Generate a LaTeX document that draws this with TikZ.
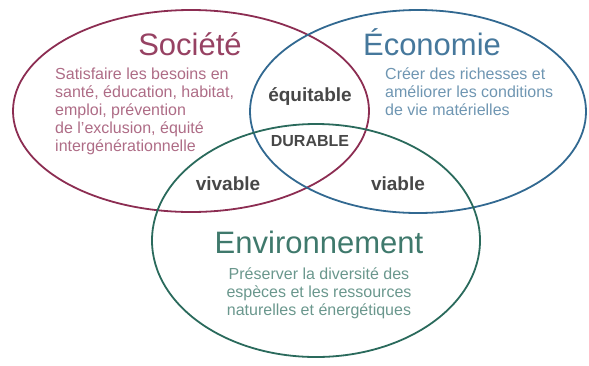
\documentclass[tikz,border=0pt]{standalone}
\usepackage{fontspec}
\setmainfont{Liberation Sans}
\definecolor{rouge}{RGB}{140,45,82}
\definecolor{bleu}{RGB}{50,105,145}
\definecolor{vert}{RGB}{42,106,92}
\tikzset{
	ring/.style={line width=1.8bp},
	titre/.style={font=\fontsize{31bp}{31bp}\selectfont, anchor=base, inner sep=0},
	texte/.style={font=\fontsize{16bp}{17.8bp}\selectfont, inner sep=0},
	lien/.style={font=\bfseries\fontsize{19bp}{19bp}\selectfont, text=black!72, anchor=base, inner sep=0}
}

\begin{document}
\begin{tikzpicture}[x=1bp, y=-1bp]
		%%%%% START %%%%%
		\useasboundingbox (0, 0) rectangle (589, 365);
		
		\draw[ring, color=rouge] (191, 111) ellipse [x radius=178bp, y radius=101bp];
		\draw[ring, color=bleu] (418, 111.5) ellipse [x radius=168bp, y radius=101.5bp];
		\draw[ring, color=vert] (316, 240.5) ellipse [x radius=164bp, y radius=116.5bp];
		
		\node[titre, text=rouge!90] (soc) at (190, 55) {Société};
		\node[texte, text=rouge!70, anchor=north west, align=left] (socTexte) at (55, 68)
			{Satisfaire les besoins en\\santé, éducation, habitat,\\emploi, prévention\\de l'exclusion, équité\\intergénérationnelle};
		
		\node[titre, text=bleu!90] (eco) at (432, 55) {Économie};
		\node[texte, text=bleu!70, anchor=north west, align=left] (ecoTexte) at (385, 68)
			{Créer des richesses et\\améliorer les conditions\\de vie matérielles};
		
		\node[titre, text=vert!90] (env) at (319, 253) {Environnement};
		\node[texte, text=vert!70, anchor=north, align=center] (envTexte) at (319, 268)
			{Préserver la diversité des\\espèces et les ressources\\naturelles et énergétiques};
		
		\node[lien] (equitable) at (310, 101) {équitable};
		\node[lien, font=\bfseries\fontsize{16bp}{16bp}\selectfont] (durable) at (310, 146) {DURABLE};
		\node[lien] (vivable) at (228, 190) {vivable};
		\node[lien] (viable) at (398, 190) {viable};
		%%%%% END %%%%%
\end{tikzpicture}
\end{document}
